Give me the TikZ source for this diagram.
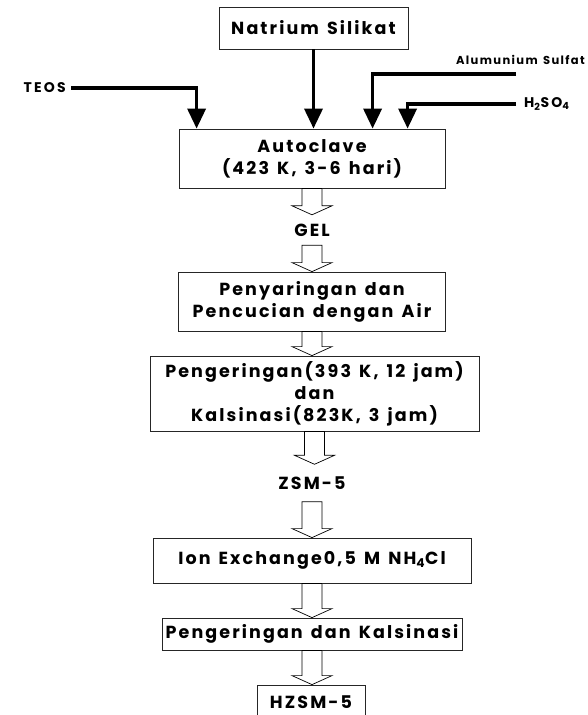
\documentclass[tikz,border=0pt]{standalone}
\usepackage{fontspec}
\setmainfont{Poppins}[LetterSpace=12,WordSpace=1.4]
\usetikzlibrary{arrows.meta,calc,positioning}
\newcommand{\boxfont}{\bfseries\fontsize{17.5}{22}\selectfont}
\newcommand{\smallfont}{\bfseries\fontsize{11.5}{13}\selectfont}
\newcommand{\capsfont}{\bfseries\fontsize{14}{15}\selectfont\addfontfeatures{LetterSpace=16}}
% hollow step arrow from the bottom of one node to the top of the next
\newcommand{\hollow}[2]{%
  \draw[line width=0.7pt,fill=white] let \p1=(#1.south), \p2=(#2.north) in
    (\x1-10pt,\y1) -- (\x1+10pt,\y1) -- (\x1+10pt,\y2+9pt) -- (\x1+20pt,\y2+9pt)
    -- (\x1,\y2) -- (\x1-20pt,\y2+9pt) -- (\x1-10pt,\y2+9pt) -- cycle;}

\begin{document}
\begin{tikzpicture}[x=1pt,y=1pt,
  box/.style={draw=black!85,line width=0.8pt,inner sep=0pt,align=center,font=\boxfont},
  lbl/.style={inner sep=0pt,font=\boxfont},
  feedlbl/.style={inner sep=0pt,font=\smallfont},
  feed/.style={line width=3.5pt,-{Triangle[width=18pt,length=20pt]}}]
  \useasboundingbox (0,0) rectangle (587,-715);

  \node[box,minimum width=189pt,minimum height=42pt] (nat) at (313.5,-28) {Natrium Silikat};
  \node[box,minimum width=266pt,minimum height=59pt] (auto) at (312,-158.5)
       {Autoclave\\(423 K, 3-6 hari)};
  \node[lbl,minimum height=30pt] (gel) at (312,-230) {GEL};
  \node[box,minimum width=267pt,minimum height=59pt] (pen) at (312,-301.5)
       {Penyaringan dan\\Pencucian dengan Air};
  \node[box,minimum width=329pt,minimum height=75pt] (kal) at (314.5,-393.5)
       {Pengeringan(393 K, 12 jam)\\dan\\Kalsinasi(823K, 3 jam)};
  \node[lbl,minimum height=37pt] (zsm) at (312,-483) {ZSM-5};
  \node[box,minimum width=318pt,minimum height=45pt] (ion) at (312,-560.5)
       {Ion Exchange0,5 M NH\textsubscript{4}Cl};
  \node[box,minimum width=300pt,minimum height=32pt] (pdk) at (312,-634)
       {Pengeringan dan Kalsinasi};
  \node[box,minimum width=108pt,minimum height=34pt] (hz) at (311,-702) {HZSM-5};

  % feeds into the autoclave
  \node[feedlbl,font=\capsfont,anchor=east] (teos) at (66,-88) {TEOS};
  \node[feedlbl,anchor=east] (alu) at (585,-60) {Alumunium Sulfat};
  \node[feedlbl,font=\capsfont,anchor=west] (h2so4) at (524,-104) {H\textsubscript{2}SO\textsubscript{4}};
  \coordinate (alu-in) at (516,-74);

  \draw[feed] (nat.south) -- (nat.south |- auto.north);
  \draw[feed] ([xshift=5pt]teos.east) -| ([xshift=18pt]auto.north west);
  \draw[feed] (alu-in) -| ([xshift=194pt]auto.north west);
  \draw[feed] ([xshift=-8pt]h2so4.west) -| ([xshift=229pt]auto.north west);

  % process steps
  \hollow{auto}{gel}
  \hollow{gel}{pen}
  \hollow{pen}{kal}
  \hollow{kal}{zsm}
  \hollow{zsm}{ion}
  \hollow{ion}{pdk}
  \hollow{pdk}{hz}
\end{tikzpicture}
\end{document}
